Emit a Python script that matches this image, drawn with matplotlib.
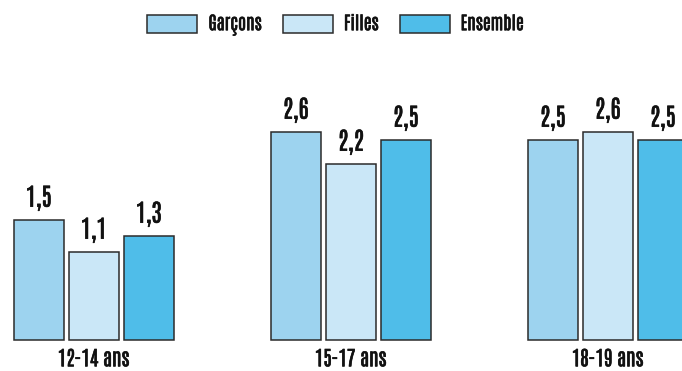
import matplotlib
matplotlib.use("Agg")
import matplotlib.pyplot as plt
import matplotlib.patheffects as pe
import numpy as np

categories = ["12-14 ans", "15-17 ans", "18-19 ans"]
series_names = ["Garçons", "Filles", "Ensemble"]
garcons = [1.5, 2.6, 2.5]
filles = [1.1, 2.2, 2.6]
ensemble = [1.3, 2.5, 2.5]
colors = ["#9dd3ef", "#cae7f7", "#4fbde9"]

FONT = ["Antonio", "DejaVu Sans"]
plt.rcParams["font.family"] = FONT
TEXT_COLOR = "#111111"
# slight outline to give the condensed face a heavier stroke
heavy = [pe.withStroke(linewidth=0.45, foreground=TEXT_COLOR)]

W, H = 682, 371
fig = plt.figure(figsize=(W / 100, H / 100), dpi=100)

# axes spans full width; bar baseline sits 339.5 px from the top
base_px = 339.5
top_px = 60
ax = fig.add_axes([0, (H - base_px) / H, 1, (base_px - top_px) / H])
unit = 257.0  # px between group centres
ax.set_xlim(-93.7 / unit, (W - 93.7) / unit)
ax.set_ylim(0, (base_px - top_px) / 80.0)
ax.axis("off")

x = np.arange(len(categories))
width = 50 / unit
step = 55 / unit
series = [garcons, filles, ensemble]
for i, (name, vals, col) in enumerate(zip(series_names, series, colors)):
    pos = x + (i - 1) * step
    ax.bar(pos, vals, width=width, color=col, edgecolor="#2b2b2b",
           linewidth=1.1, label=name, clip_on=False)
    for xp, v in zip(pos, vals):
        ax.text(xp, v + 0.16, f"{v:.1f}".replace(".", ","), ha="center",
                va="baseline", fontsize=17.5, color=TEXT_COLOR, path_effects=heavy)

for xp, c in zip(x, categories):
    ax.text(xp, -0.335, c, ha="center", va="baseline", fontsize=14.5,
            color=TEXT_COLOR, path_effects=heavy)

leg = fig.legend(loc="center", bbox_to_anchor=(335.5 / W, 1 - 25 / H), ncol=3,
                 frameon=False, handlelength=2.77, handleheight=1.22,
                 handletextpad=0.61, columnspacing=1.16,
                 prop={"family": FONT, "size": 13})
for t in leg.get_texts():
    t.set_color(TEXT_COLOR)
    t.set_path_effects(heavy)

fig.savefig("out.png", dpi=100)
